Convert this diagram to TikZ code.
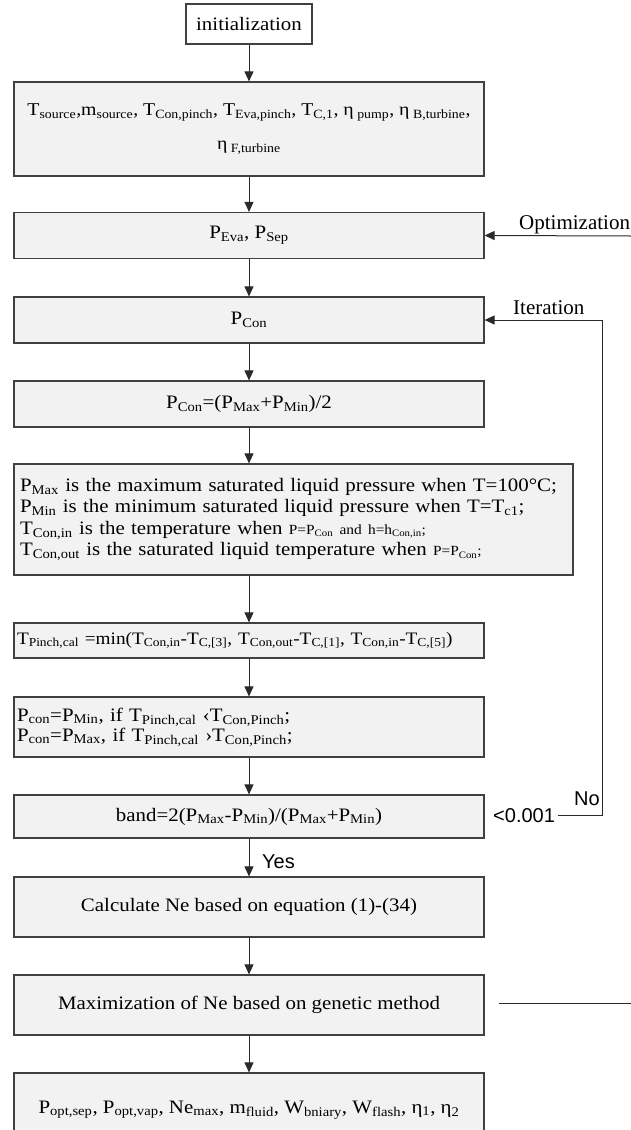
\documentclass[tikz,border=0pt]{standalone}
\usepackage{fontspec}
\setmainfont{Liberation Serif}[FakeStretch=1.1]
\newfontfamily\sansf{Liberation Sans}
\newfontfamily\plainserif{Liberation Serif}
\usetikzlibrary{arrows.meta}
\definecolor{boxfill}{HTML}{F2F2F2}
\definecolor{boxline}{HTML}{404040}
\definecolor{lineclr}{HTML}{2A2A2A}
\newcommand\sbx[1]{\textsubscript{#1}}
\newcommand\smalltxt[1]{{\fontsize{14}{14}\selectfont #1}}
\newcommand\tightlines{\lineskiplimit=-20pt\relax}
\begin{document}
\begin{tikzpicture}[x=1pt,y=-1pt,
  box/.style={draw=boxline, line width=1.2pt, fill=boxfill, minimum width=470pt,
    inner sep=0pt, font=\fontsize{19}{22}\selectfont},
  lbox/.style={box, align=left},
  arr/.style={draw=lineclr, line width=1pt, -{Triangle[length=10pt,width=9pt]}},
  plain/.style={draw=lineclr, line width=1pt},
  serlab/.style={inner sep=0pt, font=\plainserif\fontsize{21}{24}\selectfont},
  sanlab/.style={inner sep=0pt, font=\sansf\fontsize{20}{24}\selectfont}]
\useasboundingbox (0,0) rectangle (631,1130);
\clip (0,0) rectangle (631,1130);

\node[box, fill=white, minimum width=126pt, minimum height=40pt] (init) at (249,24) {initialization};
\node[box, minimum height=94pt, align=center, font=\fontsize{18}{22}\selectfont] (params) at (249,129)
  {T\sbx{source},m\sbx{source}, T\sbx{Con,pinch}, T\sbx{Eva,pinch}, T\sbx{C,1}, η\sbx{ pump}, η\sbx{ B,turbine},\\[12pt]
   η\sbx{ F,turbine}};
\node[box, minimum height=46pt] (peva) at (249,235.5) {P\sbx{Eva}, P\sbx{Sep}};
\node[box, minimum height=46pt] (pcon) at (249,320) {P\sbx{Con}};
\node[box, minimum height=46pt] (pmid) at (249,404) {P\sbx{Con}=(P\sbx{Max}+P\sbx{Min})/2};
\node[lbox, minimum width=559pt, minimum height=111pt, text width=547pt,
  font=\fontsize{19}{21.5}\selectfont\tightlines] (defs) at (293.5,519.5)
  {P\sbx{Max} is the maximum saturated liquid pressure when T=100°C;\\
   P\sbx{Min} is the minimum saturated liquid pressure when T=T\sbx{c1};\\
   T\sbx{Con,in} is the temperature when \smalltxt{P=P\sbx{Con} and h=h\sbx{Con,in};}\\
   T\sbx{Con,out} is the saturated liquid temperature when \smalltxt{P=P\sbx{Con};}};
\node[lbox, minimum height=35pt, text width=464pt, font=\fontsize{17.5}{20}\selectfont] (pinch) at (249,640.5)
  {T\sbx{Pinch,cal} =min(T\sbx{Con,in}-T\sbx{C,[3]}, T\sbx{Con,out}-T\sbx{C,[1]}, T\sbx{Con,in}-T\sbx{C,[5]})};
\node[lbox, minimum height=60pt, text width=464pt,
  font=\fontsize{19}{20}\selectfont\tightlines] (rule) at (249,727)
  {P\sbx{con}=P\sbx{Min}, if T\sbx{Pinch,cal} ‹T\sbx{Con,Pinch};\\
   P\sbx{con}=P\sbx{Max}, if T\sbx{Pinch,cal} ›T\sbx{Con,Pinch};};
\node[box, minimum height=43pt] (band) at (249,816.5) {band=2(P\sbx{Max}-P\sbx{Min})/(P\sbx{Max}+P\sbx{Min})};
\node[box, minimum height=60pt] (calc) at (249,907) {Calculate Ne based on equation (1)-(34)};
\node[box, minimum height=60pt] (maxi) at (249,1005) {Maximization of Ne based on genetic method};
\node[box, minimum height=74pt] (out) at (249,1110)
  {P\sbx{opt,sep}, P\sbx{opt,vap}, Ne\sbx{max}, m\sbx{fluid}, W\sbx{bniary}, W\sbx{flash}, η\sbx{1}, η\sbx{2}};

\node[serlab, anchor=base west] (optl) at (519,229) {Optimization};
\node[serlab, anchor=base west] (iterl) at (513,314) {Iteration};
\node[sanlab, anchor=base west, inner sep=3pt] (lt) at (490,822) {<0.001};
\node[sanlab, anchor=base west] (nol) at (574,805) {No};
\node[sanlab, anchor=base west] (yesl) at (262,868) {Yes};

\coordinate (optin) at (631,236);
\coordinate (fbc) at (602,320);
\coordinate (maxa) at (499,1003);
\coordinate (maxb) at (631,1003);

\draw[arr] (init) -- (params);
\draw[arr] (params) -- (peva);
\draw[arr] (peva) -- (pcon);
\draw[arr] (pcon) -- (pmid);
\draw[arr] (pmid.south) -- (defs.north -| pmid.south);
\draw[arr] (defs.south -| pinch.north) -- (pinch.north);
\draw[arr] (pinch) -- (rule);
\draw[arr] (rule) -- (band);
\draw[arr] (band) -- (calc);
\draw[arr] (calc) -- (maxi);
\draw[arr] (maxi) -- (out);
\draw[arr] (optin) -- (peva.east);
\draw[arr] (lt.east) -| (fbc) -- (pcon.east);
\draw[plain] (maxa) -- (maxb);
\end{tikzpicture}
\end{document}
